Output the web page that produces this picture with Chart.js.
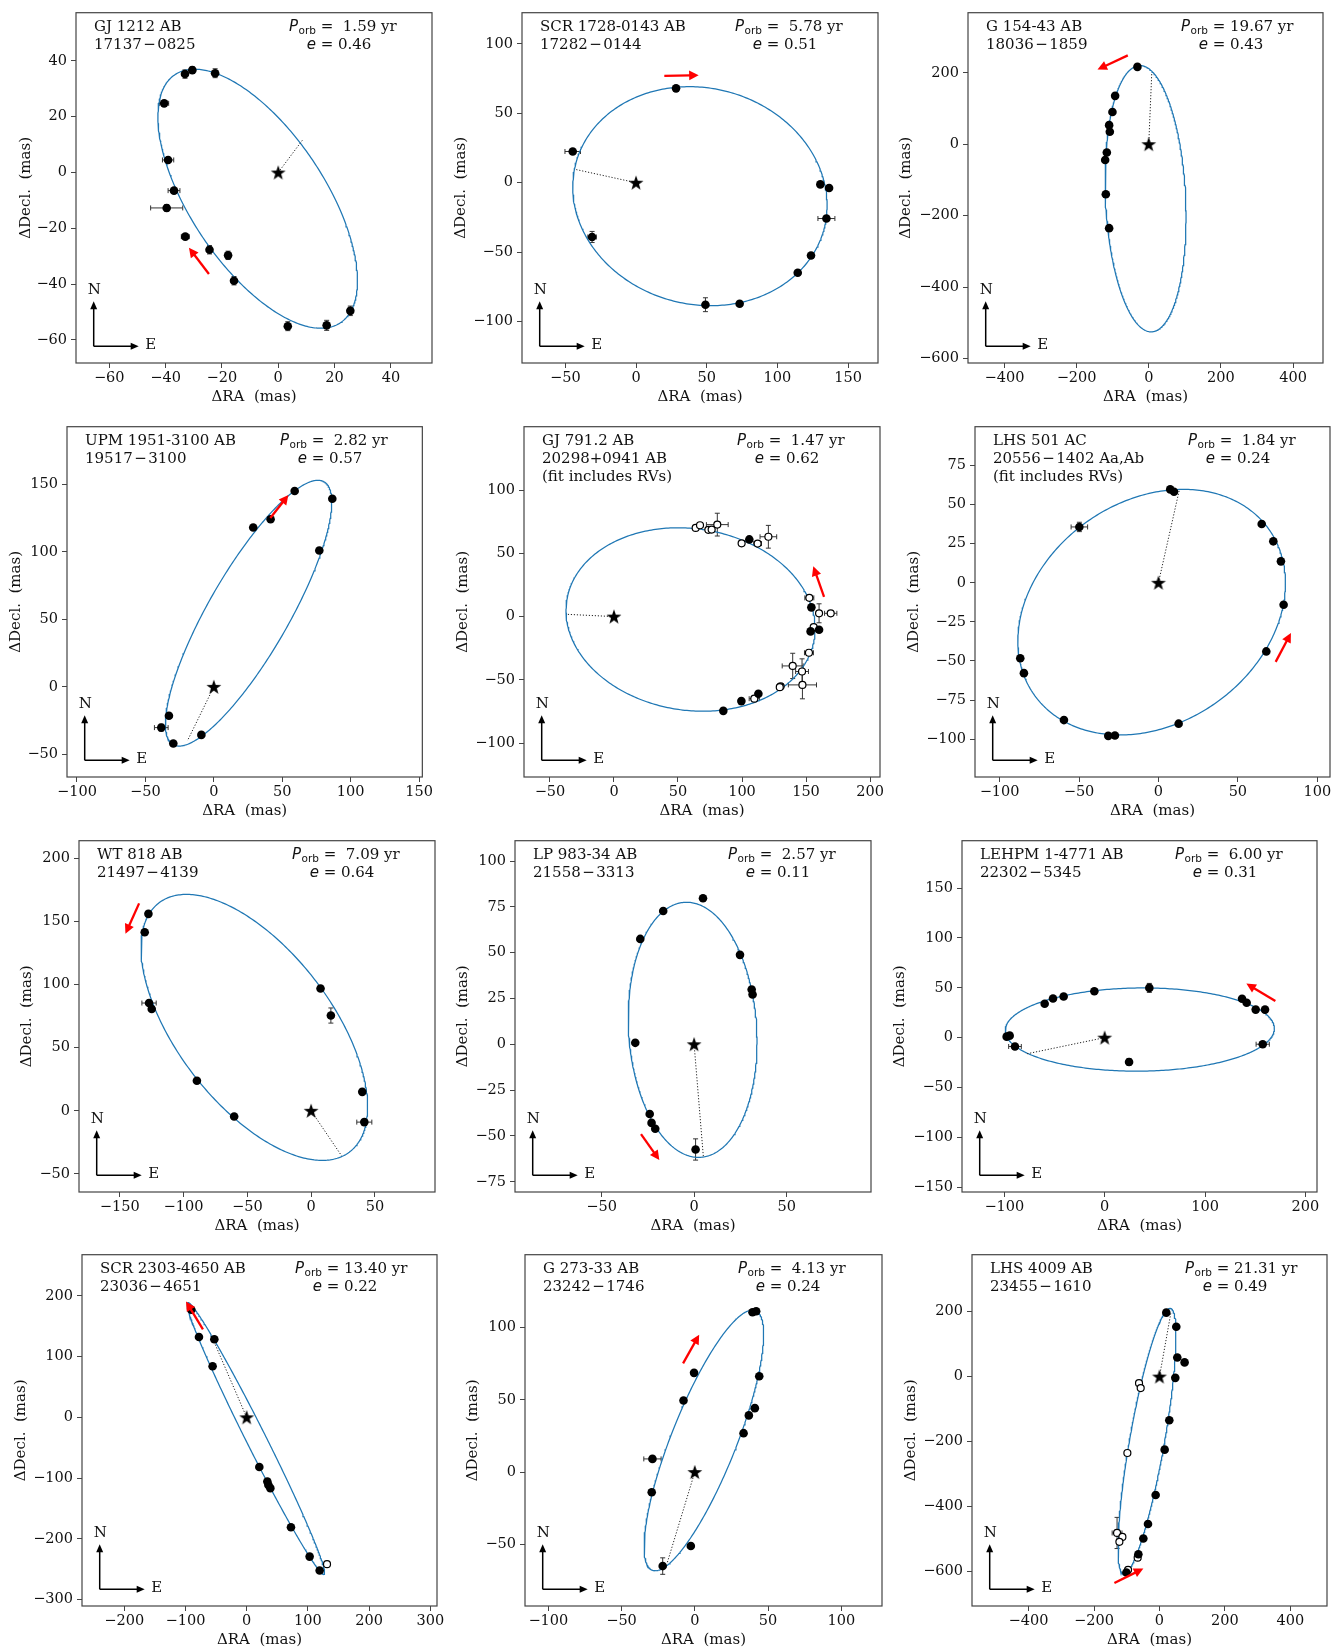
<!DOCTYPE html>
<html>
<head>
<meta charset="utf-8">
<script src="https://cdn.jsdelivr.net/npm/chart.js@4.4.1/dist/chart.umd.min.js"></script>
<style>
  body { margin: 0; background: #fff; }
  #wrap { position: relative; width: 1343px; height: 1652px; overflow: hidden; }
  #wrap canvas { position: absolute; }
</style>
</head>
<body>
<div id="wrap"></div>
<script>
// ---- labels ----
const names = ['GJ 1212 AB', 'SCR 1728-0143 AB', 'G 154-43 AB', 'UPM 1951-3100 AB', 'GJ 791.2 AB', 'LHS 501 AC',
               'WT 818 AB', 'LP 983-34 AB', 'LEHPM 1-4771 AB', 'SCR 2303-4650 AB', 'G 273-33 AB', 'LHS 4009 AB'];
const wdsIds = ['17137\u200a\u2212\u200a0825', '17282\u200a\u2212\u200a0144', '18036\u200a\u2212\u200a1859', '19517\u200a\u2212\u200a3100',
                '20298+0941 AB', '20556\u200a\u2212\u200a1402 Aa,Ab', '21497\u200a\u2212\u200a4139', '21558\u200a\u2212\u200a3313',
                '22302\u200a\u2212\u200a5345', '23036\u200a\u2212\u200a4651', '23242\u200a\u2212\u200a1746', '23455\u200a\u2212\u200a1610'];
const notes = ['', '', '', '', '(fit includes RVs)', '(fit includes RVs)', '', '', '', '', '', ''];
const periods = ['1.59', '5.78', '19.67', '2.82', '1.47', '1.84', '7.09', '2.57', '6.00', '13.40', '4.13', '21.31'];
const eccs = ['0.46', '0.51', '0.43', '0.57', '0.62', '0.24', '0.64', '0.11', '0.31', '0.22', '0.24', '0.49'];

// ---- axes ----
const xLims = [[-71.8, 54.6], [-80.7, 171.2], [-501, 483], [-107.3, 152.4], [-70.3, 207.8], [-115.5, 108],
               [-181.9, 97.1], [-96.8, 95.6], [-142.2, 211.6], [-269, 311], [-115.9, 127.8], [-572.7, 511.7]];
const yLims = [[-68.3, 57.3], [-129.9, 122.5], [-612, 368], [-66.8, 192.8], [-126.8, 150.1], [-124.2, 99.8],
               [-64.4, 214.1], [-80.6, 111.1], [-154.9, 197.6], [-310.4, 267.6], [-92.6, 150.3], [-706.7, 375.5]];
const xTicks = [[-60, -40, -20, 0, 20, 40], [-50, 0, 50, 100, 150], [-400, -200, 0, 200, 400], [-100, -50, 0, 50, 100, 150],
                [-50, 0, 50, 100, 150, 200], [-100, -50, 0, 50, 100], [-150, -100, -50, 0, 50], [-50, 0, 50],
                [-100, 0, 100, 200], [-200, -100, 0, 100, 200, 300], [-100, -50, 0, 50, 100], [-400, -200, 0, 200, 400]];
const yTicks = [[-60, -40, -20, 0, 20, 40], [-100, -50, 0, 50, 100], [-600, -400, -200, 0, 200], [-50, 0, 50, 100, 150],
                [-100, -50, 0, 50, 100], [-100, -75, -50, -25, 0, 25, 50, 75], [-50, 0, 50, 100, 150, 200],
                [-75, -50, -25, 0, 25, 50, 75, 100], [-150, -100, -50, 0, 50, 100, 150], [-300, -200, -100, 0, 100, 200],
                [-50, 0, 50, 100], [-600, -400, -200, 0, 200]];

// ---- measurements: [dRA, dDec, errRA, errDec] (mas) ----
const filledPts = [
  [[-33.1, 35.3, 0, 1.5], [-30.5, 36.7, 0, 1.2], [-22.4, 35.6, 0, 1.6], [-40.5, 24.8, 1.6, 0], [-39.1, 4.5, 2.0, 0],
   [-37.0, -6.5, 2.1, 0], [-39.6, -12.7, 5.7, 1.2], [-33.0, -23.0, 1.4, 0], [-24.4, -27.7, 0, 1.5], [-17.8, -29.7, 0, 1.5],
   [-15.7, -38.8, 0, 1.5], [3.4, -55.1, 0, 1.6], [17.2, -54.8, 0, 1.8], [25.6, -49.6, 0, 1.7]],
  [[28.3, 68.0, 0, 0], [-44.8, 22.5, 5.5, 1.5], [-31.1, -39.1, 3, 4], [49.1, -87.9, 1, 5], [73.3, -87.2, 0, 0],
   [114.4, -64.9, 0, 0], [123.8, -52.4, 0, 0], [134.7, -25.8, 6, 1.5], [130.4, -1.2, 0, 0], [136.6, -3.8, 0, 0]],
  [[-31.4, 216.4], [-93.2, 135.4], [-100.6, 90.2], [-109.8, 53.4], [-107.9, 35.0], [-116.2, -23.0], [-120.8, -44.2],
   [-119.0, -140.0], [-109.8, -234.8]],
  [[59.1, 145.1], [86.6, 139.4], [41.5, 124.2], [28.8, 118.1], [77.1, 101.1], [-32.8, -21.4], [-38.4, -30.2, 5, 2.5],
   [-29.6, -42.0], [-9.1, -35.6]],
  [[105.7, 61.0], [154.2, 7.3], [153.6, -11.7], [160.2, -10.4], [112.8, -61.0], [99.5, -66.8], [85.4, -74.5]],
  [[7.4, 59.7], [9.8, 58.2], [-49.8, 35.7, 5.2, 3], [65.0, 37.6], [72.3, 26.5], [77.1, 13.7], [78.8, -14.1], [67.9, -43.9],
   [-87.0, -48.3], [-84.7, -57.8], [-59.5, -87.8], [-31.6, -97.9], [-27.4, -97.7], [12.7, -90.1]],
  [[-127.5, 156.1], [-130.4, 141.5], [-127.0, 85.4, 5.6, 2], [-124.9, 80.7], [7.4, 96.9], [15.5, 75.5, 0, 6],
   [-89.5, 23.8], [-60.3, -4.6], [40.1, 15.0], [41.7, -9.0, 5.9, 0]],
  [[4.8, 79.7], [-16.7, 72.7], [-29.1, 57.5], [24.8, 48.8], [31.1, 29.9], [31.6, 27.2], [-31.8, 0.8], [-24.0, -38.0],
   [-23.0, -42.9], [-21.0, -46.1], [0.8, -57.4, 0, 5.8]],
  [[-97.7, 1.0], [-94.7, 2.0], [-89.4, -8.9, 6.3, 0], [-59.8, 34.0], [-51.5, 39.3], [-40.9, 41.3], [-10.3, 46.6],
   [44.5, 49.9, 2, 4.5], [24.3, -24.4, 0, 3.5], [136.9, 39.0], [141.5, 35.0], [150.5, 28.1], [159.8, 28.1], [157.5, -6.6, 6.6, 0]],
  [[-90.4, 177.1], [-77.9, 132.2], [-52.8, 128.4], [-55.6, 84.0], [20.7, -81.8], [33.8, -105.6], [35.4, -111.1],
   [38.7, -116.5], [72.4, -180.9], [102.9, -229.1], [119.3, -251.9]],
  [[39.4, 110.5], [41.9, 111.2], [-0.5, 68.6], [44.0, 66.3], [-7.7, 49.5], [41.0, 44.2], [36.9, 39.2], [33.3, 26.9],
   [-28.9, 9.1, 5.9, 0], [-29.4, -14.0], [-2.7, -51.1], [-21.9, -65.0, 0, 5.7]],
  [[20.8, 197.0], [51.3, 153.4], [54.4, 59.0], [76.7, 43.8], [48.3, -3.9], [30.0, -134.7], [15.8, -225.0], [-11.7, -364.9],
   [-35.1, -454.2], [-49.3, -498.8], [-64.5, -547.5], [-101.1, -603.3]]
];
const openPts = [
  [], [], [], [],
  [[63.8, 70.1], [67.2, 72.2], [73.7, 68.6], [76.3, 68.8], [80.7, 72.7, 8.5, 9], [99.7, 57.9], [112.2, 57.7, 3, 0],
   [120.6, 63.1, 6.5, 9], [152.6, 14.8, 3.5, 0], [160.2, 2.6, 0, 7.5], [169.3, 2.6, 4.8, 0], [156.0, -8.3],
   [152.3, -28.6, 3.5, 0], [139.6, -39.0, 8.2, 10], [146.9, -43.4, 5, 10], [147.2, -54.0, 11, 11], [130.2, -55.1],
   [129.5, -55.8], [109.6, -64.9, 4, 0]],
  [], [], [], [],
  [[131.3, -241.6]],
  [],
  [[-62.5, -20.3], [-57.4, -35.5], [-98.1, -235.3], [-129.6, -481.7, 15, 48], [-113.3, -493.9], [-122.5, -509.1],
   [-66.6, -557.7], [-96.0, -595.2]]
];

// ---- projected orbit (centre, semi-axes, tilt in deg) ----
const orbitCenter = [[-7.3, -9.4], [45.2, -9.7], [-8.8, -152.4], [25.4, 54.6], [59.8, -2.3], [-4.3, -18.8],
                     [-44.5, 66.1], [-0.8, 7.9], [35.0, 8.1], [15.0, -34.7], [6.2, 21.9], [-38.1, -199.1]];
const orbitAxes = [[53.3, 23.9], [90.95, 77.8], [372.8, 111.0], [111.9, 29.5], [97.86, 71.74], [90.9, 70.7],
                   [123.8, 60.6], [69.7, 34.6], [134.1, 41.75], [249.7, 16], [96.4, 22.2], [415.3, 53.1]];
const orbitTilt = [-56.7, -16.2, -87.4, 60.5, -9.06, 36.7, -53.05, -86.45, 0.5, -63.5, 68.6, 80.1];
const periastron = [[8.6, 11.6], [-42.5, 9.5], [8.3, 198], [-19.3, -40.0], [-37.0, 1.8], [13.1, 59.2],
                    [23.9, -35.7], [5.0, -61.3], [-77.4, -16.2], [-58.3, 136.0], [-19.1, -63.7], [35.1, 198.0]];
const motionFrom = [[-24.6, -36.4], [20.0, 77.0], [-58.1, 248.6], [41.3, 125.1], [164.1, 15.6], [73.8, -50.6],
                    [-134.8, 164.4], [-28.7, -49.0], [170.1, 36.7], [-71.4, 144.6], [-8.0, 75.2], [-137.7, -636.0]];
const motionTo = [[-31.7, -27.0], [44.3, 77.5], [-142.1, 209.0], [54.5, 142.1], [155.7, 39.7], [83.4, -32.1],
                  [-145.5, 140.4], [-18.8, -63.2], [141.2, 54.2], [-99.1, 190.7], [3.0, 95.0], [-49.3, -591.4]];

// ---- page layout: plot box [left, top, right, bottom] and y-title gap ----
const boxes = [[76, 8, 432, 363], [522, 8, 878, 363], [968, 8, 1323, 363],
               [67, 422, 423, 777], [524, 422, 880, 777], [975, 422, 1330, 777],
               [79, 836, 435, 1192], [515, 836, 871, 1192], [962, 836, 1317, 1192],
               [82, 1250, 437, 1606], [525, 1250, 882, 1606], [972, 1250, 1327, 1606]];
const yTitleGap = [50, 61, 62, 51, 61, 61, 52, 52, 62, 61, 52, 61];

Chart.defaults.font.family = '"DejaVu Serif"';
Chart.defaults.color = '#111';

const starImg = document.createElement('canvas');
starImg.width = 18; starImg.height = 18;
(function () {
  const c = starImg.getContext('2d');
  c.beginPath();
  for (let k = 0; k < 10; k++) {
    const r = k % 2 ? 3.1 : 7.8;
    const ang = -Math.PI / 2 + k * Math.PI / 5;
    const px = 9 + r * Math.cos(ang), py = 9.6 + r * Math.sin(ang);
    k ? c.lineTo(px, py) : c.moveTo(px, py);
  }
  c.closePath();
  c.fillStyle = '#000';
  c.fill();
})();

function orbitCurve(i) {
  const [cx, cy] = orbitCenter[i], [a, b] = orbitAxes[i];
  const th = orbitTilt[i] * Math.PI / 180;
  const pts = [];
  for (let k = 0; k <= 360; k++) {
    const t = k * Math.PI / 180;
    pts.push({
      x: cx + a * Math.cos(t) * Math.cos(th) - b * Math.sin(t) * Math.sin(th),
      y: cy + a * Math.cos(t) * Math.sin(th) + b * Math.sin(t) * Math.cos(th)
    });
  }
  return pts;
}

const toXY = arr => arr.map(p => ({ x: p[0], y: p[1] }));
const fmt = v => (v < 0 ? '\u2212' + Math.abs(v) : String(v));

function arrow(ctx, x1, y1, x2, y2, color, lw, headLen, headHalf) {
  const dx = x2 - x1, dy = y2 - y1, len = Math.hypot(dx, dy);
  const ux = dx / len, uy = dy / len;
  const bx = x2 - ux * headLen, by = y2 - uy * headLen;
  ctx.strokeStyle = color; ctx.fillStyle = color; ctx.lineWidth = lw;
  ctx.beginPath(); ctx.moveTo(x1, y1); ctx.lineTo(bx + ux, by + uy); ctx.stroke();
  ctx.beginPath();
  ctx.moveTo(x2, y2);
  ctx.lineTo(bx - uy * headHalf, by + ux * headHalf);
  ctx.lineTo(bx + uy * headHalf, by - ux * headHalf);
  ctx.closePath(); ctx.fill();
}

const TXT = '15px "DejaVu Serif"';
const TXT_IT = 'italic 15px "DejaVu Sans"';

function makeDecor(i) {
  return {
    id: 'decor' + i,
    beforeDatasetsDraw(chart) {
      const { ctx, chartArea: ca, scales: { x: xs, y: ys } } = chart;
      ctx.save();
      ctx.beginPath(); ctx.rect(ca.left, ca.top, ca.width, ca.height); ctx.clip();
      ctx.strokeStyle = '#333'; ctx.lineWidth = 1;
      filledPts[i].concat(openPts[i]).forEach(p => {
        const px = xs.getPixelForValue(p[0]), py = ys.getPixelForValue(p[1]);
        const eRa = p[2] || 0, eDec = p[3] || 0;
        ctx.beginPath();
        if (eRa) {
          const a = xs.getPixelForValue(p[0] - eRa), b = xs.getPixelForValue(p[0] + eRa);
          ctx.moveTo(a, py); ctx.lineTo(b, py);
          ctx.moveTo(a, py - 2.5); ctx.lineTo(a, py + 2.5);
          ctx.moveTo(b, py - 2.5); ctx.lineTo(b, py + 2.5);
        }
        if (eDec) {
          const a = ys.getPixelForValue(p[1] - eDec), b = ys.getPixelForValue(p[1] + eDec);
          ctx.moveTo(px, a); ctx.lineTo(px, b);
          ctx.moveTo(px - 2.5, a); ctx.lineTo(px + 2.5, a);
          ctx.moveTo(px - 2.5, b); ctx.lineTo(px + 2.5, b);
        }
        ctx.stroke();
      });
      ctx.restore();
    },
    afterDatasetsDraw(chart) {
      const { ctx, scales: { x: xs, y: ys } } = chart;
      ctx.save();
      arrow(ctx, xs.getPixelForValue(motionFrom[i][0]), ys.getPixelForValue(motionFrom[i][1]),
            xs.getPixelForValue(motionTo[i][0]), ys.getPixelForValue(motionTo[i][1]), '#ff0000', 2.3, 9.5, 4.8);
      ctx.restore();
    },
    afterDraw(chart) {
      const { ctx, chartArea: ca } = chart;
      ctx.save();
      ctx.strokeStyle = '#444'; ctx.lineWidth = 1.2;
      ctx.strokeRect(ca.left, ca.top, ca.width, ca.height);

      // compass
      const ox = ca.left + 17.7, oy = ca.bottom - 16.7;
      arrow(ctx, ox, oy, ox, oy - 45, '#000', 1.5, 8, 3.5);
      arrow(ctx, ox, oy, ox + 45, oy, '#000', 1.5, 8, 3.5);
      ctx.fillStyle = '#111';
      ctx.font = TXT;
      ctx.textAlign = 'center'; ctx.textBaseline = 'middle';
      ctx.fillText('N', ca.left + 18.3, ca.bottom - 73);
      ctx.fillText('E', ca.left + 74.7, ca.bottom - 18.3);

      // names
      ctx.textAlign = 'left'; ctx.textBaseline = 'alphabetic';
      [names[i], wdsIds[i], notes[i]].filter(s => s).forEach((s, k) => {
        ctx.fillText(s, ca.left + 18, ca.top + 18 + k * 18);
      });

      // period and eccentricity
      let x = ca.left + 213;
      const y1 = ca.top + 18, y2 = ca.top + 36;
      ctx.font = TXT_IT;
      ctx.fillText('P', x, y1); x += ctx.measureText('P').width;
      ctx.font = '10.5px "DejaVu Sans"';
      ctx.fillText('orb', x + 0.5, y1 + 3.5); x += ctx.measureText('orb').width + 0.5;
      ctx.font = TXT;
      ctx.fillText(' = ' + periods[i].padStart(5, ' ') + ' yr', x, y1);

      ctx.font = TXT_IT;
      const we = ctx.measureText('e').width;
      ctx.font = TXT;
      const rest = ' = ' + eccs[i];
      const wr = ctx.measureText(rest).width;
      const xe = ca.left + 263 - (we + wr) / 2;
      ctx.font = TXT_IT;
      ctx.fillText('e', xe, y2);
      ctx.font = TXT;
      ctx.fillText(rest, xe + we, y2);
      ctx.restore();
    }
  };
}

const wrap = document.getElementById('wrap');
const tickFont = { family: '"DejaVu Serif"', size: 14.5 };
const titleFont = { family: '"DejaVu Serif"', size: 15 };

boxes.forEach((box, i) => {
  const [l, t, r, b] = box;
  const cv = document.createElement('canvas');
  cv.width = (r - l) + 80 + 12;
  cv.height = (b - t) + 8 + 43 + 4;
  cv.style.left = (l - 80) + 'px';
  cv.style.top = (t - 8) + 'px';
  wrap.appendChild(cv);

  new Chart(cv, {
    type: 'scatter',
    data: {
      datasets: [
        { data: orbitCurve(i), showLine: true, pointRadius: 0, borderColor: '#1f77b4', borderWidth: 1.25, order: 5 },
        { data: [{ x: 0, y: 0 }, { x: periastron[i][0], y: periastron[i][1] }], showLine: true, pointRadius: 0,
          borderColor: '#222', borderWidth: 1, borderDash: [1.2, 1.8], order: 4 },
        { data: toXY(openPts[i]), pointRadius: 3.5, backgroundColor: '#fff', borderColor: '#000', borderWidth: 1.2, order: 3 },
        { data: toXY(filledPts[i]), pointRadius: 4.3, backgroundColor: '#000', borderColor: '#000', borderWidth: 0, order: 2 },
        { data: [{ x: 0, y: 0 }], pointStyle: starImg, pointRadius: 6, order: 1 }
      ]
    },
    options: {
      responsive: false,
      animation: false,
      events: [],
      layout: { padding: { left: 0, top: 8, right: 12, bottom: 4 } },
      plugins: { legend: { display: false }, tooltip: { enabled: false } },
      scales: {
        x: {
          type: 'linear', min: xLims[i][0], max: xLims[i][1],
          afterBuildTicks: s => { s.ticks = xTicks[i].map(v => ({ value: v })); },
          afterFit: s => { s.height = 43; },
          ticks: { font: tickFont, color: '#111', padding: 2, autoSkip: false, maxRotation: 0, callback: v => fmt(v) },
          grid: { drawOnChartArea: false, drawTicks: true, tickLength: 5, color: '#444' },
          border: { display: false },
          title: { display: true, text: '\u0394RA  (mas)', font: titleFont, color: '#111', padding: { top: 0, bottom: 0 } }
        },
        y: {
          type: 'linear', min: yLims[i][0], max: yLims[i][1],
          afterBuildTicks: s => { s.ticks = yTicks[i].map(v => ({ value: v })); },
          afterFit: s => { s.width = 80; },
          ticks: { font: tickFont, color: '#111', padding: 4, autoSkip: false, callback: v => fmt(v) },
          grid: { drawOnChartArea: false, drawTicks: true, tickLength: 5, color: '#444' },
          border: { display: false },
          title: { display: true, text: '\u0394Decl.  (mas)', font: titleFont, color: '#111',
                   padding: { top: 80 - yTitleGap[i] - 9, bottom: 0 } }
        }
      }
    },
    plugins: [makeDecor(i)]
  });
});
</script>
</body>
</html>
